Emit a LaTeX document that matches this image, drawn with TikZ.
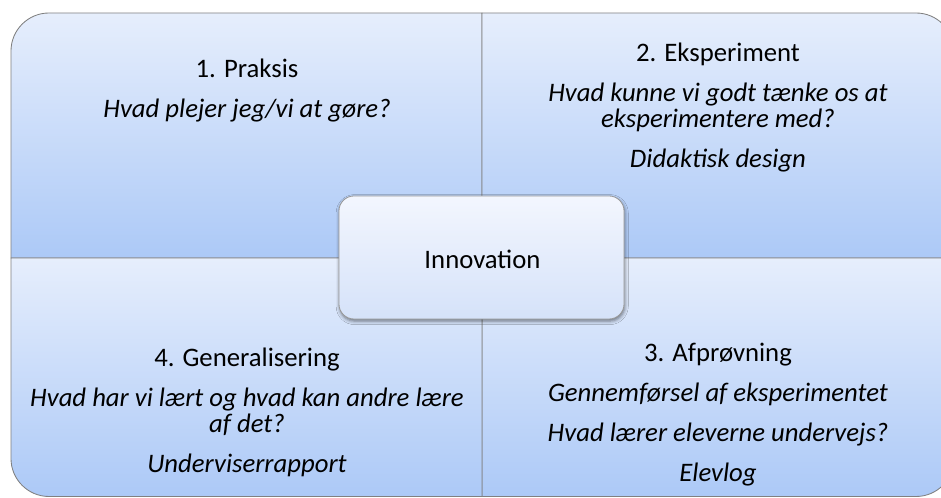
\documentclass[tikz,border=0pt]{standalone}
\usepackage{fontspec}
\setmainfont{Carlito}
\usetikzlibrary{shadows.blur}
\definecolor{qtop}{RGB}{230,238,252}
\definecolor{qmid}{RGB}{208,223,250}
\definecolor{qbot}{RGB}{172,201,247}
\definecolor{ctop}{RGB}{243,246,254}
\definecolor{cbot}{RGB}{213,226,249}
\definecolor{qline}{RGB}{128,128,128}

\begin{document}
\begin{tikzpicture}[
    x=0.025cm, y=0.025cm,
    quad/.style={draw=qline, line width=0.6pt, top color=qtop, middle color=qmid, bottom color=qbot},
    hub/.style={rectangle, rounded corners=0.375cm, draw=qline!80, line width=0.6pt,
        top color=ctop, bottom color=cbot, minimum width=7.125cm, minimum height=3.075cm,
        blur shadow={shadow xshift=0.5pt, shadow yshift=-1.5pt, shadow blur radius=2.5pt, shadow opacity=50}},
    body/.style={align=center, anchor=base, font=\fontsize{19}{18.5}\selectfont}
]
    \useasboundingbox (0,0) rectangle (941,498);
    \clip (0,0) rectangle (941,498);

    % Quadrants
    \path[quad] (11,240) -- (11,447) arc[start angle=180, end angle=90, radius=38] -- (482,485) -- (482,240) -- cycle;
    \path[quad] (482,240) -- (482,485) -- (916,485) arc[start angle=90, end angle=0, radius=38] -- (954,240) -- cycle;
    \path[quad] (482,240) -- (954,240) -- (954,39.5) arc[start angle=0, end angle=-90, radius=38] -- (916,1.5) -- (482,1.5) -- cycle;
    \path[quad] (482,240) -- (482,1.5) -- (49,1.5) arc[start angle=270, end angle=180, radius=38] -- (11,39.5) -- (11,240) -- cycle;

    % Texts (anchored at the baseline of the last line)
    \node[body] (praksis) at (247,380) {1. Praksis\\[0.35cm]
        \textit{Hvad plejer jeg/vi at gøre?}};
    \node[body] (eksperiment) at (718,330) {2. Eksperiment\\[0.35cm]
        \textit{Hvad kunne vi godt tænke os at}\\\textit{eksperimentere med?}\\[0.35cm]
        \textit{Didaktisk design}};
    \node[body] (afproevning) at (718,16) {3. Afprøvning\\[0.35cm]
        \textit{Gennemførsel af eksperimentet}\\[0.35cm]
        \textit{Hvad lærer eleverne undervejs?}\\[0.35cm]
        \textit{Elevlog}};
    \node[body] (generalisering) at (247,25) {4. Generalisering\\[0.35cm]
        \textit{Hvad har vi lært og hvad kan andre lære}\\\textit{af det?}\\[0.35cm]
        \textit{Underviserrapport}};

    % Centre
    \node[hub] (innovation) at (481.5,240.5) {};
    \node[body] (innovationlabel) at (482.5,229) {Innovation};
\end{tikzpicture}
\end{document}
